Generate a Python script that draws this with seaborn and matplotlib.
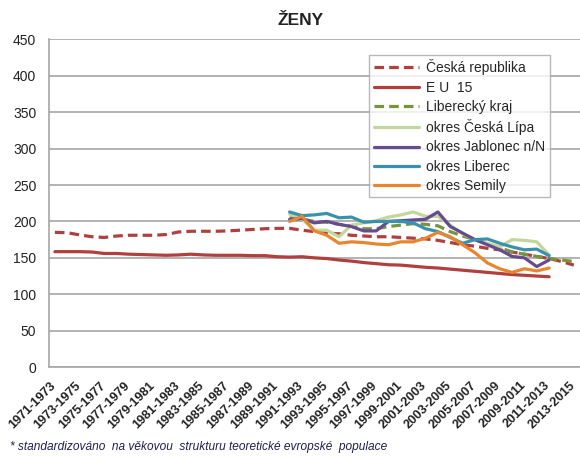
import pandas as pd
import matplotlib.pyplot as plt
import matplotlib.transforms as mtransforms
import seaborn as sns

# three-year periods on the x axis
periods = [
    "1971-1973", "1972-1974", "1973-1975", "1974-1976", "1975-1977", "1976-1978",
    "1977-1979", "1978-1980", "1979-1981", "1980-1982", "1981-1983", "1982-1984",
    "1983-1985", "1984-1986", "1985-1987", "1986-1988", "1987-1989", "1988-1990",
    "1989-1991", "1990-1992", "1991-1993", "1992-1994", "1993-1995", "1994-1996",
    "1995-1997", "1996-1998", "1997-1999", "1998-2000", "1999-2001", "2000-2002",
    "2001-2003", "2002-2004", "2003-2005", "2004-2006", "2005-2007", "2006-2008",
    "2007-2009", "2008-2010", "2009-2011", "2010-2012", "2011-2013", "2012-2014",
    "2013-2015",
]

# values (start index = first period with data)
cr = [185, 184.5, 181.5, 179, 178, 180, 181, 181, 181, 182, 185.5, 186.5, 186.5,
      186.5, 187, 188, 189, 190, 190.5, 190.5, 188, 186, 184, 183, 181, 180, 179,
      179, 178, 177, 176, 174, 171, 168, 166, 163, 161, 158, 155, 152, 149, 145, 140]
eu15 = [158.5, 158.5, 158.5, 158, 156, 156, 155, 154.5, 154, 153.5, 154, 155, 154,
        153.5, 153.5, 153.5, 153, 153, 151.5, 151, 151.5, 150, 149, 147, 145.5, 143.5,
        142, 140.5, 140, 138.5, 137, 136, 134.5, 133, 131.5, 130, 128.5, 127, 126,
        125, 124]
liberecky_kraj = [205, 203, 200, 199, 196, 194, 190, 190, 193, 195, 197, 196, 194,
                  186, 180, 175, 169, 164, 158, 155, 152, 149, 147, 145]
ceska_lipa = [210, 203, 188, 188, 179, 195, 198, 201, 206, 209, 213, 207, 207, 195,
              183, 175, 170, 165, 175, 174, 172, 154]
jablonec = [203, 204, 198, 200, 196, 193, 187, 187, 200, 201, 202, 203, 213, 193,
            184, 175, 168, 161, 152, 150, 138, 147]
liberec = [213, 208, 209, 211, 205, 206, 199, 200, 200, 200, 198, 190, 186, 178,
           170, 175, 176, 170, 165, 161, 162, 153]
semily = [200, 207, 187, 181, 170, 172, 171, 169, 168, 172, 172, 177, 185, 179,
          168, 157, 143, 135, 130, 135, 132, 136]

series = [
    ("Česká republika", cr, 0, "#B0403D", "dashed"),
    ("E U  15", eu15, 0, "#B0403D", "solid"),
    ("Liberecký kraj", liberecky_kraj, 19, "#77933C", "dashed"),
    ("okres Česká Lípa", ceska_lipa, 19, "#C3D69B", "solid"),
    ("okres Jablonec n/N", jablonec, 19, "#664C8F", "solid"),
    ("okres Liberec", liberec, 19, "#3A91AE", "solid"),
    ("okres Semily", semily, 19, "#E8862F", "solid"),
]


def plot_zeny():
    sns.set_style("white")
    plt.rcParams["font.family"] = ["Liberation Sans", "DejaVu Sans"]

    fig = plt.figure(figsize=(5.8, 4.59), dpi=100)
    ax = fig.add_axes([0.084, 0.2004, 0.916, 0.7136])

    for name, vals, start, color, style in series:
        df = pd.DataFrame({"x": range(start, start + len(vals)), "y": vals})
        ls = (0, (3, 1.6)) if style == "dashed" else "-"
        sns.lineplot(data=df, x="x", y="y", ax=ax, color=color, linewidth=2.3,
                     linestyle=ls, label=name)

    ax.set_xlim(-0.5, len(periods) - 0.5)
    ax.set_ylim(0, 450)
    ax.set_yticks(range(0, 451, 50))
    ax.yaxis.grid(True, color="#A6A6A6", linewidth=1.2)
    ax.set_axisbelow(True)
    ax.tick_params(axis="y", length=0, pad=9, labelsize=10, labelcolor="#222222")

    ax.set_xticks(range(0, len(periods), 2))
    ax.set_xticklabels(periods[::2], rotation=45, ha="right",
                       rotation_mode="anchor", fontsize=9.2, fontweight="bold",
                       color="#222222")
    ax.set_xticks([i - 0.5 for i in range(len(periods) + 1)], minor=True)
    ax.tick_params(axis="x", which="major", length=0, pad=9)
    ax.tick_params(axis="x", which="minor", length=4, width=1, color="#A6A6A6",
                   direction="out")
    # nudge the slanted labels a little to the left so the last one fits
    shift = mtransforms.ScaledTranslation(-0.05, 0, fig.dpi_scale_trans)
    for lab in ax.get_xticklabels():
        lab.set_transform(lab.get_transform() + shift)
    ax.set_xlabel("")
    ax.set_ylabel("")

    for s in ["top", "right"]:
        ax.spines[s].set_visible(False)
    for s in ["left", "bottom"]:
        ax.spines[s].set_color("#A6A6A6")
        ax.spines[s].set_linewidth(1.2)

    leg = ax.legend(loc="upper left", bbox_to_anchor=(0.603, 0.953),
                    borderaxespad=0, frameon=True, fancybox=False, fontsize=10,
                    handlelength=3.3, labelspacing=0.38, borderpad=0.32,
                    handletextpad=0.5)
    leg.get_frame().set_edgecolor("#A6A6A6")
    leg.get_frame().set_linewidth(1.0)

    fig.text(0.519, 0.955, "ŽENY", ha="center", va="center", fontsize=12.5,
             fontweight="bold", color="#222222")
    fig.text(0.017, 0.026,
             "* standardizováno  na věkovou  strukturu teoretické evropské  populace",
             ha="left", va="center", fontsize=8.6, style="italic", color="#1F1F4A")

    fig.savefig("out.png", dpi=100)


if __name__ == "__main__":
    plot_zeny()
